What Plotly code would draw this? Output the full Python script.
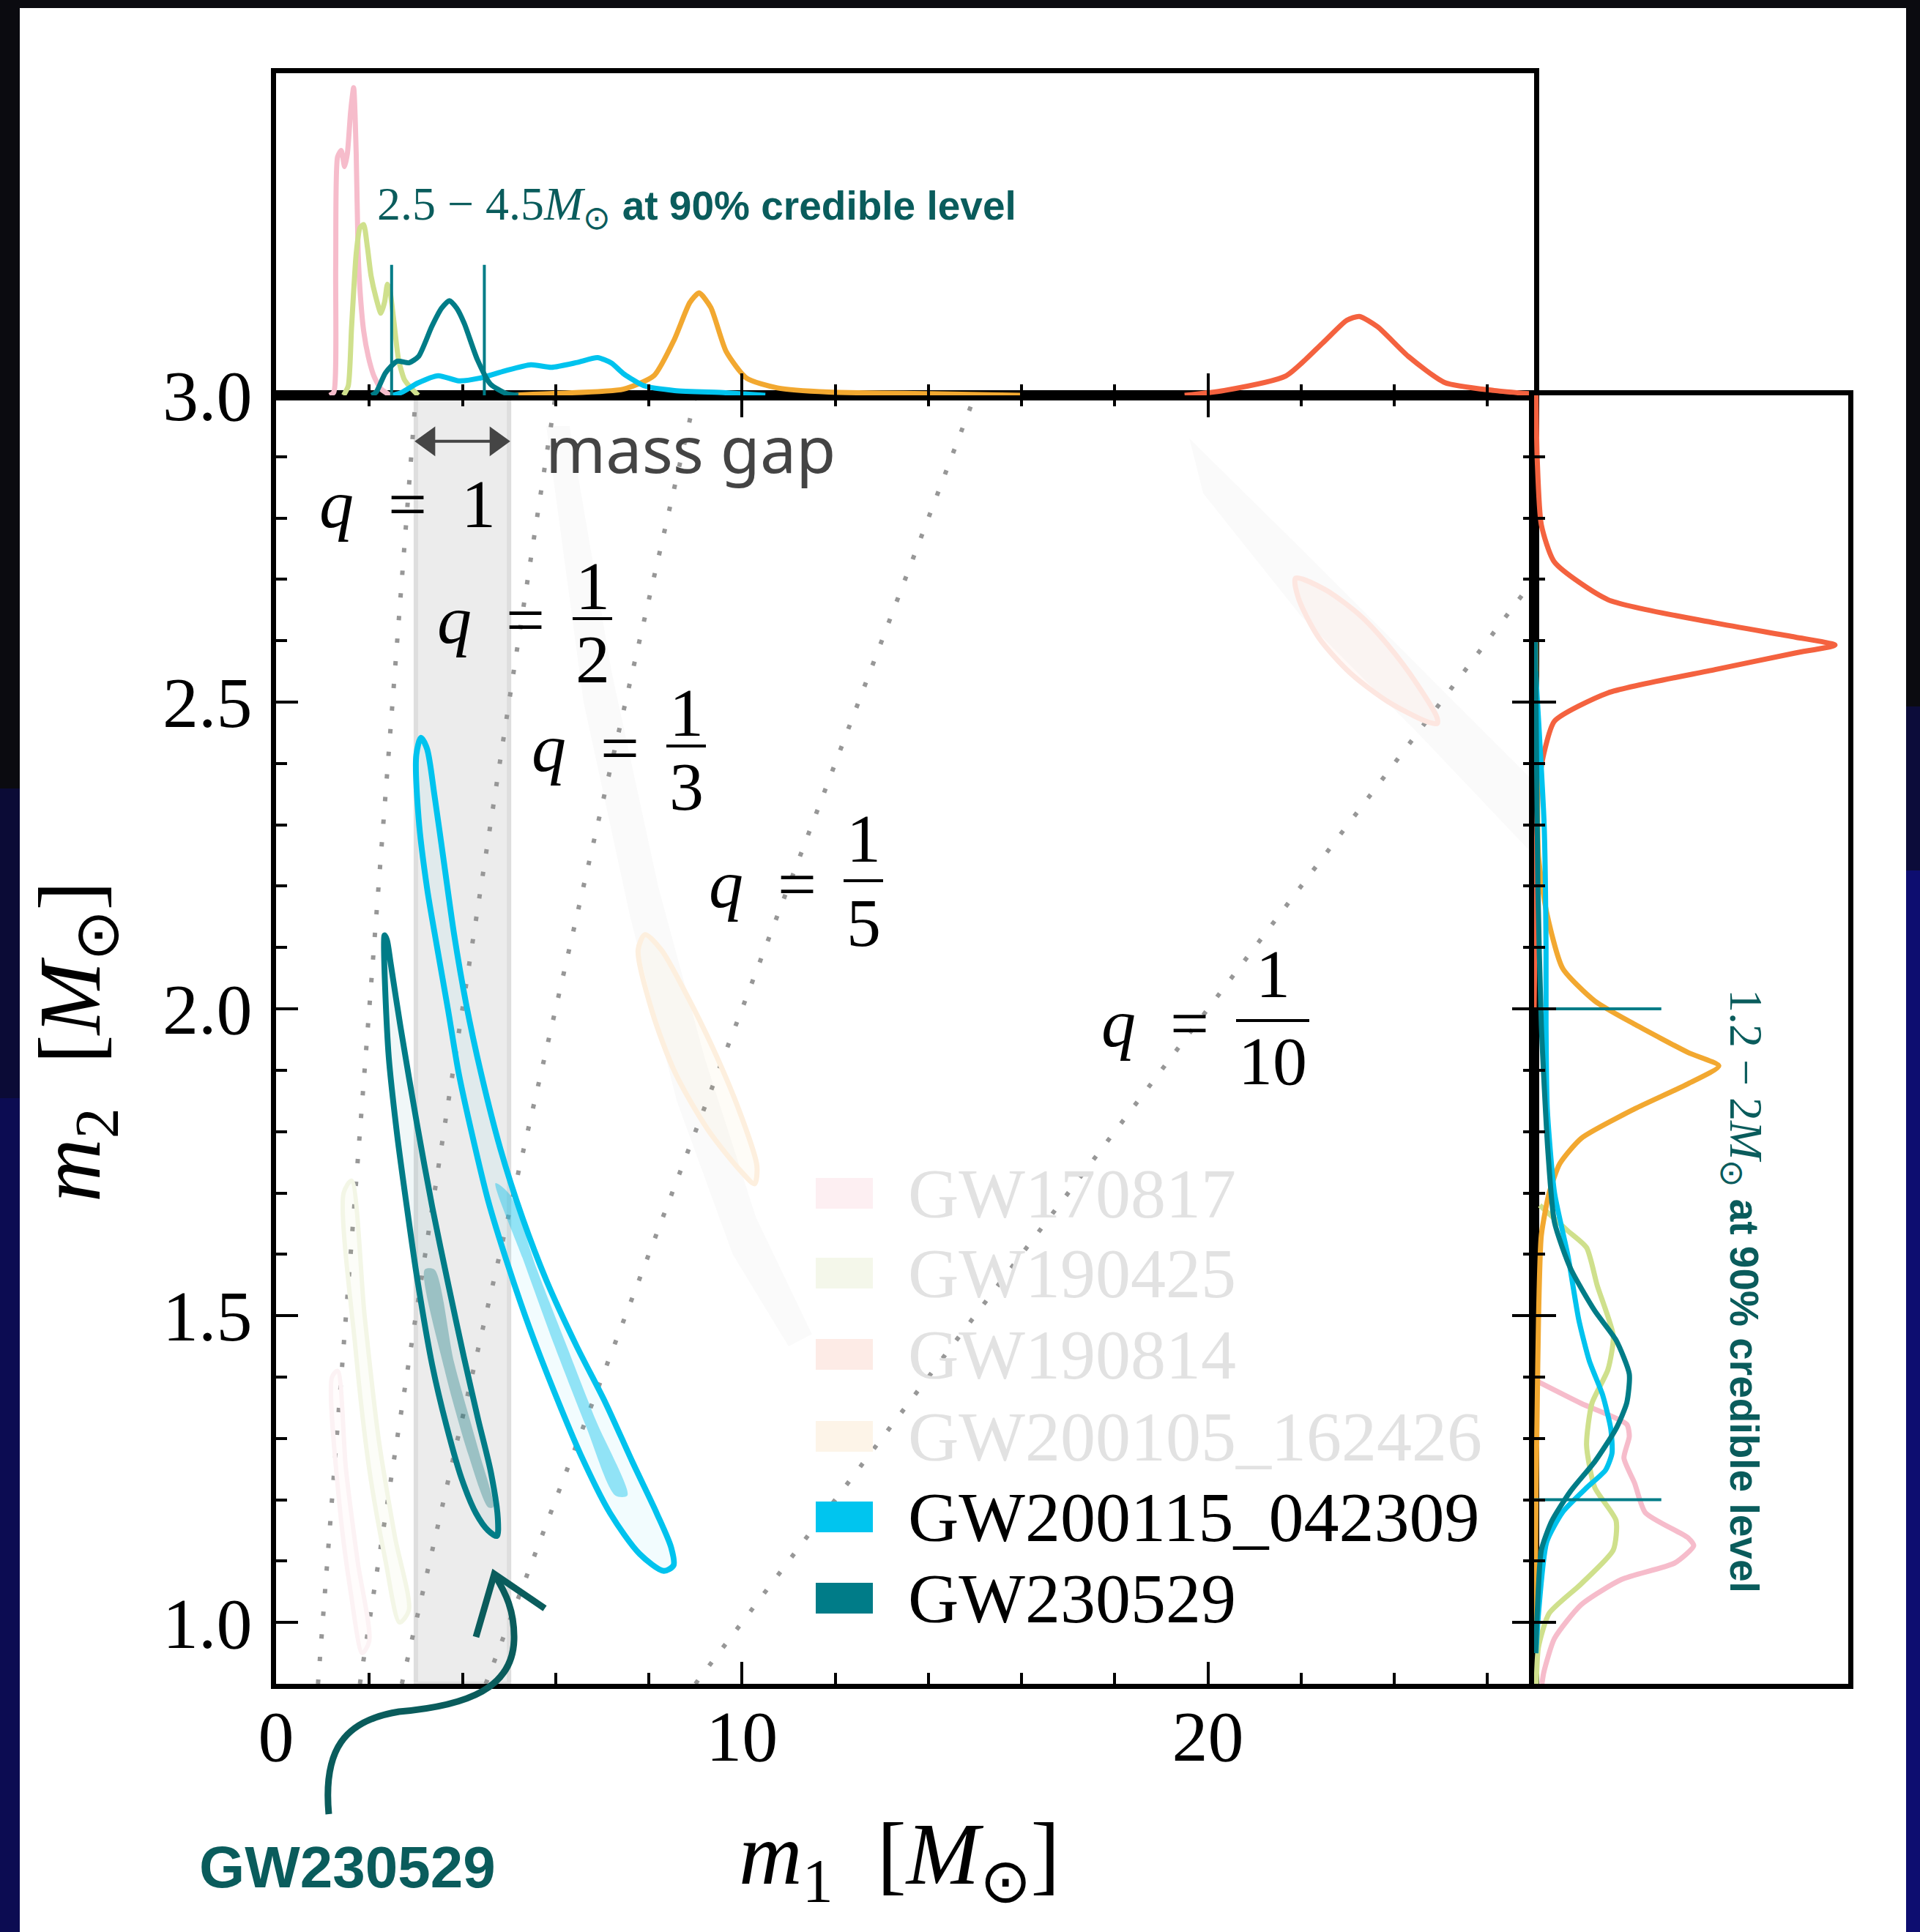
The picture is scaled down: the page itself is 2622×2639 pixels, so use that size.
import plotly.graph_objects as go

W, H = 2622, 2639

# ---------------- data ----------------
m1_range = [0, 27]
m2_range = [0.9, 3.0]
q_values = [1, 1/2, 1/3, 1/5, 1/10]
q_numerators = ["1", "1", "1", "1"]
q_denominators = ["2", "3", "5", "10"]
mass_gap = [3.0, 5.0]
gap_arrow_m2 = 2.925
cred_m1 = [2.48, 4.47]      # GW230529 m1 90% bounds (top marginal)
cred_m2 = [1.2, 2.0]        # GW230529 m2 90% bounds (right marginal)
cred_len = 0.405

events = ["GW170817", "GW190425", "GW190814", "GW200105_162426",
          "GW200115_042309", "GW230529"]
line_colors = ["#f6bccb", "#cfe08c", "#f4623f", "#f2a830", "#00c3ee", "#007c87"]
faint_patch = ["#fdeff2", "#f4f7ea", "#fdebe6", "#fdf4e8", "#00c5ef", "#007c88"]
faint_event = [True, True, True, True, False, False]

# 90% contours (m1, m2)
gw230529_m1 = [2.33, 2.41, 2.59, 2.82, 3.03, 3.35, 3.66, 3.98, 4.29, 4.55, 4.74,
               4.76, 4.61, 4.34, 4.03, 3.71, 3.35, 3.03, 2.67, 2.46, 2.38, 2.33]
gw230529_m2 = [2.12, 1.93, 1.80, 1.67, 1.56, 1.42, 1.32, 1.235, 1.178, 1.150, 1.141,
               1.169, 1.245, 1.330, 1.433, 1.546, 1.678, 1.810, 1.971, 2.074, 2.112, 2.12]
gw230529_core_m1 = [3.19, 3.61, 4.13, 4.55, 4.66, 4.34, 3.82, 3.40, 3.19]
gw230529_core_m2 = [1.575, 1.414, 1.273, 1.188, 1.188, 1.282, 1.424, 1.575, 1.575]

gw200115_m1 = [3.11, 3.01, 3.06, 3.24, 3.45, 3.69, 3.92, 4.19, 4.55, 4.97, 5.44, 5.97,
               6.54, 7.17, 7.80, 8.32, 8.53, 8.48, 8.17, 7.64, 7.07, 6.44, 5.81, 5.29,
               4.81, 4.40, 4.08, 3.82, 3.61, 3.40, 3.24, 3.11]
gw200115_m2 = [2.442, 2.414, 2.310, 2.197, 2.103, 1.999, 1.895, 1.801, 1.688, 1.584,
               1.480, 1.376, 1.273, 1.178, 1.112, 1.084, 1.093, 1.122, 1.178, 1.263,
               1.358, 1.452, 1.556, 1.659, 1.773, 1.895, 2.008, 2.122, 2.235, 2.348,
               2.424, 2.442]
gw200115_core_m1 = [4.71, 5.29, 5.97, 6.65, 7.28, 7.54, 6.86, 6.23, 5.60, 5.02, 4.71]
gw200115_core_m2 = [1.716, 1.594, 1.452, 1.320, 1.207, 1.207, 1.330, 1.452, 1.575, 1.697, 1.716]

gw200105_m1 = [7.92, 7.77, 8.07, 8.57, 9.27, 9.97, 10.27, 10.32, 9.97, 9.37, 8.77, 8.27, 7.92]
gw200105_m2 = [2.121, 2.096, 1.996, 1.895, 1.803, 1.736, 1.715, 1.744, 1.828, 1.937, 2.029, 2.096, 2.121]
gw200105_tail_m1 = [5.8, 6.6, 7.6, 8.6, 9.8, 11.0, 11.5, 10.3, 9.2, 8.2, 7.2, 6.3, 5.8]
gw200105_tail_m2 = [2.95, 2.5, 2.15, 1.85, 1.6, 1.45, 1.47, 1.66, 1.92, 2.2, 2.55, 2.95, 2.95]

gw190814_m1 = [21.88, 22.50, 23.24, 23.86, 24.49, 24.92, 24.92, 24.67, 23.86, 23.06, 22.37, 21.94, 21.88]
gw190814_m2 = [2.702, 2.684, 2.643, 2.593, 2.529, 2.474, 2.465, 2.469, 2.501, 2.547, 2.606, 2.670, 2.702]
gw190814_tail_m1 = [19.6, 22.0, 24.5, 27.0, 27.0, 24.5, 22.0, 19.9, 19.6]
gw190814_tail_m2 = [2.93, 2.75, 2.56, 2.37, 2.25, 2.45, 2.64, 2.84, 2.93]

gw190425_m1 = [1.45, 1.70, 2.00, 2.35, 2.65, 2.85, 2.55, 2.20, 1.90, 1.62, 1.45]
gw190425_m2 = [1.70, 1.45, 1.25, 1.10, 1.00, 1.02, 1.14, 1.30, 1.50, 1.72, 1.70]
gw170817_m1 = [1.20, 1.35, 1.60, 1.85, 2.00, 1.75, 1.50, 1.32, 1.20]
gw170817_m2 = [1.40, 1.20, 1.05, 0.95, 0.97, 1.10, 1.25, 1.41, 1.40]

# top marginal: m1 densities (normalised panel height)
top_m1 = {
    "GW170817": [1.15, 1.24, 1.28, 1.32, 1.40, 1.47, 1.53, 1.60, 1.665, 1.72, 1.76, 1.80, 1.88, 1.98, 2.10, 2.25, 2.45],
    "GW190425": [1.45, 1.55, 1.62, 1.72, 1.80, 1.88, 1.96, 2.04, 2.15, 2.25, 2.33, 2.39, 2.45, 2.52, 2.63, 2.75, 2.85, 3.05],
    "GW190814": [19.5, 20.35, 21.67, 22.46, 22.98, 23.25, 23.64, 24.30, 25.08, 26.14, 26.9],
    "GW200105_162426": [5.0, 6.0, 7.45, 8.11, 8.55, 8.88, 9.08, 9.33, 9.66, 10.10, 10.76, 11.86, 14.07, 16.0],
    "GW200115_042309": [2.5, 2.71, 3.04, 3.48, 3.92, 4.36, 4.91, 5.47, 5.91, 6.46, 6.90, 7.20, 7.45, 7.89, 8.55, 9.65, 10.5],
    "GW230529": [2.05, 2.15, 2.35, 2.60, 2.85, 3.06, 3.34, 3.55, 3.72, 3.88, 4.04, 4.32, 4.60, 4.95, 5.2],
}
top_h = {
    "GW170817": [0, 0.01, 0.4, 0.74, 0.76, 0.71, 0.75, 0.88, 0.955, 0.75, 0.45, 0.33, 0.2, 0.12, 0.06, 0.02, 0],
    "GW190425": [0, 0.03, 0.21, 0.44, 0.52, 0.53, 0.46, 0.37, 0.30, 0.255, 0.29, 0.345, 0.32, 0.24, 0.11, 0.05, 0.03, 0],
    "GW190814": [0, 0.015, 0.06, 0.162, 0.233, 0.245, 0.213, 0.121, 0.04, 0.015, 0.005],
    "GW200105_162426": [0, 0.006, 0.019, 0.061, 0.174, 0.288, 0.318, 0.273, 0.136, 0.053, 0.023, 0.01, 0.005, 0],
    "GW200115_042309": [0, 0.01, 0.038, 0.061, 0.045, 0.053, 0.076, 0.095, 0.087, 0.102, 0.117, 0.1, 0.068, 0.030, 0.015, 0.008, 0],
    "GW230529": [0, 0.01, 0.07, 0.106, 0.101, 0.121, 0.213, 0.27, 0.294, 0.27, 0.223, 0.111, 0.035, 0.005, 0],
}
# right marginal: m2 densities (normalised panel width)
right_m2 = {
    "GW170817": [1.392, 1.357, 1.323, 1.303, 1.268, 1.227, 1.179, 1.138, 1.125, 1.097, 1.070, 1.029, 0.974, 0.919, 0.9],
    "GW190425": [1.68, 1.638, 1.611, 1.549, 1.467, 1.412, 1.357, 1.289, 1.220, 1.166, 1.118, 1.063, 1.015, 0.960, 0.9],
    "GW190814": [3.0, 2.895, 2.789, 2.728, 2.667, 2.629, 2.606, 2.593, 2.580, 2.553, 2.515, 2.469, 2.416, 2.363, 2.2, 2.0],
    "GW200105_162426": [2.6, 2.401, 2.249, 2.157, 2.066, 2.013, 1.975, 1.929, 1.907, 1.878, 1.837, 1.789, 1.748, 1.700, 1.631, 1.494, 1.357, 1.2, 1.0],
    "GW200115_042309": [2.55, 2.3, 2.1, 1.974, 1.837, 1.700, 1.597, 1.494, 1.426, 1.371, 1.316, 1.276, 1.248, 1.220, 1.180, 1.131, 1.015, 0.95],
    "GW230529": [2.6, 2.2, 1.974, 1.768, 1.652, 1.577, 1.508, 1.460, 1.405, 1.358, 1.316, 1.262, 1.214, 1.166, 1.118, 1.015, 0.95],
}
right_w = {
    "GW170817": [0.014, 0.150, 0.295, 0.303, 0.286, 0.320, 0.354, 0.490, 0.508, 0.448, 0.278, 0.150, 0.065, 0.031, 0.025],
    "GW190425": [0.018, 0.108, 0.167, 0.201, 0.252, 0.235, 0.184, 0.167, 0.193, 0.261, 0.252, 0.150, 0.048, 0.014, 0.007],
    "GW190814": [0.006, 0.010, 0.023, 0.065, 0.235, 0.576, 0.831, 0.958, 0.831, 0.576, 0.235, 0.065, 0.031, 0.014, 0.005, 0],
    "GW200105_162426": [0.005, 0.010, 0.014, 0.040, 0.091, 0.193, 0.320, 0.490, 0.588, 0.490, 0.320, 0.150, 0.082, 0.048, 0.023, 0.014, 0.010, 0.006, 0.003],
    "GW200115_042309": [0.005, 0.032, 0.038, 0.038, 0.042, 0.065, 0.108, 0.142, 0.176, 0.218, 0.244, 0.248, 0.227, 0.168, 0.091, 0.040, 0.014, 0.006],
    "GW230529": [0.004, 0.012, 0.023, 0.044, 0.065, 0.116, 0.193, 0.261, 0.303, 0.295, 0.261, 0.193, 0.116, 0.057, 0.023, 0.010, 0.005],
}

# ---------------- helpers ----------------
def px(x):
    return x / W

def py(y):
    return 1 - y / H

TEAL_TXT = "#0a5c5c"
SERIF = "Liberation Serif"
SANS = "Liberation Sans"
ESP = "\u2002"

fig = go.Figure()

def poly(xs, ys, fill, line_color=None, width=0, spline=True):
    fig.add_trace(go.Scatter(
        x=xs, y=ys, mode="lines", fill="toself", fillcolor=fill,
        line=dict(color=line_color or "rgba(0,0,0,0)", width=width,
                  shape="spline" if spline else "linear", smoothing=0.8),
        hoverinfo="skip", showlegend=False, xaxis="x", yaxis="y"))

# faint density tails
poly(gw190814_tail_m1, gw190814_tail_m2, "#fafafa", spline=False)
poly(gw200105_tail_m1, gw200105_tail_m2, "#fafafa", spline=False)

# q = m2/m1 lines
for q in q_values:
    fig.add_trace(go.Scatter(
        x=[m2_range[0] / q, m2_range[1] / q], y=m2_range, mode="lines",
        line=dict(color="#979797", width=6, dash="6px,25px"),
        hoverinfo="skip", showlegend=False, xaxis="x", yaxis="y"))

# faint events
poly(gw170817_m1, gw170817_m2, "rgba(246,188,203,0.05)", "#fcf2f4", 6)
poly(gw190425_m1, gw190425_m2, "rgba(207,224,140,0.06)", "#f3f6e6", 6)
poly(gw200105_m1, gw200105_m2, "rgba(242,168,48,0.04)", "#fdefde", 7)
poly(gw190814_m1, gw190814_m2, "rgba(244,98,63,0.04)", "#fde6e0", 7)

# highlighted events
poly(gw200115_m1, gw200115_m2, "rgba(0,195,238,0.05)", None, 0)
poly(gw200115_core_m1, gw200115_core_m2, "rgba(0,190,235,0.40)", None, 0)
poly(gw200115_m1, gw200115_m2, "rgba(0,0,0,0)", "#00c3ee", 8)
poly(gw230529_m1, gw230529_m2, "rgba(0,124,135,0.06)", None, 0)
poly(gw230529_core_m1, gw230529_core_m2, "rgba(0,110,120,0.30)", None, 0)
poly(gw230529_m1, gw230529_m2, "rgba(0,0,0,0)", "#007c87", 8)

# marginals
for name, col in zip(events, line_colors):
    fig.add_trace(go.Scatter(
        x=top_m1[name], y=top_h[name], mode="lines",
        line=dict(color=col, width=7, shape="spline", smoothing=0.6),
        hoverinfo="skip", showlegend=False, xaxis="x2", yaxis="y2"))
    fig.add_trace(go.Scatter(
        x=right_w[name], y=right_m2[name], mode="lines",
        line=dict(color=col, width=7, shape="spline", smoothing=0.6),
        hoverinfo="skip", showlegend=False, xaxis="x3", yaxis="y3"))

for v in cred_m1:
    fig.add_trace(go.Scatter(x=[v, v], y=[0, cred_len], mode="lines",
                             line=dict(color="#007c87", width=4),
                             hoverinfo="skip", showlegend=False, xaxis="x2", yaxis="y2"))
for v in cred_m2:
    fig.add_trace(go.Scatter(x=[0, cred_len], y=[v, v], mode="lines",
                             line=dict(color="#007c87", width=4),
                             hoverinfo="skip", showlegend=False, xaxis="x3", yaxis="y3"))

# ---------------- shapes ----------------
shapes = []
# page background: dark frame with blue sides, white sheet
shapes += [
    dict(type="rect", xref="paper", yref="paper", x0=0, x1=px(27), y0=py(1077), y1=py(1500),
         fillcolor="#0b0b36", line_width=0, layer="below"),
    dict(type="rect", xref="paper", yref="paper", x0=0, x1=px(27), y0=py(1500), y1=0,
         fillcolor="#0c0c52", line_width=0, layer="below"),
    dict(type="rect", xref="paper", yref="paper", x0=px(2603), x1=1, y0=py(965), y1=py(1189),
         fillcolor="#0c0c3a", line_width=0, layer="below"),
    dict(type="rect", xref="paper", yref="paper", x0=px(2603), x1=1, y0=py(1189), y1=0,
         fillcolor="#0d0d70", line_width=0, layer="below"),
    dict(type="rect", xref="paper", yref="paper", x0=px(27), x1=px(2603), y0=0, y1=py(11),
         fillcolor="white", line_width=0, layer="below"),
]
# mass gap band
shapes.append(dict(type="rect", xref="x", yref="y", x0=mass_gap[0], x1=mass_gap[1],
                   y0=m2_range[0], y1=m2_range[1], fillcolor="#ececec",
                   line=dict(color="#dedede", width=6), layer="below"))
# double arrow across the mass gap (data coordinates)
shapes.append(dict(type="line", xref="x", yref="y", x0=mass_gap[0] + 0.25, x1=mass_gap[1] - 0.25,
                   y0=gap_arrow_m2, y1=gap_arrow_m2, line=dict(color="#454545", width=4)))
ah_dx, ah_dy = 0.4, 0.022
for tip, sgn in ((mass_gap[0], 1), (mass_gap[1], -1)):
    shapes.append(dict(type="path", xref="x", yref="y",
                       path=(f"M{tip},{gap_arrow_m2} L{tip + sgn * ah_dx},{gap_arrow_m2 + ah_dy} "
                             f"L{tip + sgn * ah_dx},{gap_arrow_m2 - ah_dy} Z"),
                       fillcolor="#454545", line=dict(color="#454545", width=2)))

# fraction bars for q labels
frac_bars = [(782, 836, 845), (910, 964, 1019), (1152, 1206, 1203), (1688, 1788, 1394)]
for x0, x1, y in frac_bars:
    shapes.append(dict(type="line", xref="paper", yref="paper", x0=px(x0), x1=px(x1),
                       y0=py(y), y1=py(y), line=dict(color="black", width=4)))

# legend patches
rows = [1630, 1739, 1850, 1962, 2072, 2183]
for r, c in zip(rows, faint_patch):
    shapes.append(dict(type="rect", xref="paper", yref="paper", x0=px(1114), x1=px(1192),
                       y0=py(r + 21), y1=py(r - 21), fillcolor=c, line_width=0))

# hand-drawn arrow pointing to GW230529
def P(x, y):
    return f"{px(x):.5f},{py(y):.5f}"
arrow_path = (f"M{P(449,2478)} C{P(441,2390)} {P(470,2350)} {P(545,2338)} "
              f"C{P(640,2330)} {P(700,2305)} {P(702,2240)} "
              f"C{P(703,2200)} {P(690,2175)} {P(676,2152)}")
head_path = f"M{P(650,2236)} L{P(675,2150)} L{P(744,2197)}"
shapes.append(dict(type="path", xref="paper", yref="paper", path=arrow_path,
                   line=dict(color=TEAL_TXT, width=9)))
shapes.append(dict(type="path", xref="paper", yref="paper", path=head_path,
                   line=dict(color=TEAL_TXT, width=9)))

# ---------------- annotations ----------------
ann = []
def text(x, y, s, size, family=SERIF, color="black", xanchor="center", yanchor="middle", angle=0):
    ann.append(dict(x=px(x), y=py(y), xref="paper", yref="paper", text=s, showarrow=False,
                    xanchor=xanchor, yanchor=yanchor, textangle=angle,
                    font=dict(family=family, size=size, color=color)))

# axis titles
text(1228, 2541, "<i>m</i><sub>1</sub>  [<i>M</i><sub>⊙</sub>]", 120)
text(104, 1422, "<i>m</i><sub>2</sub>  [<i>M</i><sub>⊙</sub>]", 120, angle=-90)

# q labels
QS = 94
text(556, 688, f"<i>q</i>{ESP}={ESP}1", QS)
q_eq_pos = [(670, 846), (799, 1021), (1041, 1207), (1577, 1397)]
num_pos = [(809, 800), (937, 973), (1179, 1145), (1738, 1330)]
den_pos = [(809, 900), (937, 1074), (1179, 1260), (1738, 1449)]
for (qx, qy), (nx, ny), (dx, dy), n, d in zip(q_eq_pos, num_pos, den_pos, q_numerators, q_denominators):
    text(qx, qy, f"<i>q</i>{ESP}=", QS)
    text(nx, ny, n, QS)
    text(dx, dy, d, QS)

# mass gap label
text(743, 612, "mass gap", 88, family="Noto Sans", color="#444444", xanchor="left")

# credible-level notes
note_top = ('<span style="font-family:Liberation Serif;font-size:64px">2.5 − 4.5<i>M</i>'
            '<sub>⊙</sub></span> <b>at 90% credible level</b>')
text(513, 283, note_top, 55, family=SANS, color=TEAL_TXT, xanchor="left")
note_right = ('<span style="font-family:Liberation Serif;font-size:64px">1.2 − 2<i>M</i>'
              '<sub>⊙</sub></span> <b>at 90% credible level</b>')
text(2380, 1763, note_right, 55, family=SANS, color=TEAL_TXT, angle=90)

# legend texts
for r, name, faint in zip(rows, events, faint_event):
    text(1238, r, name, 96, color="#e2e2e2" if faint else "black", xanchor="left")

# GW230529 call-out
text(474, 2550, "<b>GW230529</b>", 80, family=SANS, color=TEAL_TXT)

# ---------------- axes ----------------
common = dict(showline=True, linecolor="black", linewidth=7, showgrid=False, zeroline=False)
tickstyle = dict(ticks="inside", ticklen=30, tickwidth=4, tickcolor="black")
main_x_dom = [px(377), px(2095)]
right_x_dom = [px(2095), px(2524)]
main_y_dom = [py(2300), py(540)]
top_y_dom = [py(540), py(100)]

fig.update_layout(
    width=W, height=H, margin=dict(l=0, r=0, t=0, b=0, autoexpand=False),
    paper_bgcolor="#0b0b10", plot_bgcolor="white", showlegend=False,
    shapes=shapes, annotations=ann,
    xaxis=dict(domain=main_x_dom, range=m1_range, anchor="y", mirror="ticks",
               tickmode="linear", tick0=0, dtick=10,
               minor=dict(ticks="inside", ticklen=15, tickwidth=4, tickcolor="black", tick0=0, dtick=2),
               tickfont=dict(family=SERIF, size=98, color="black"), ticklabelstandoff=-20,
               **tickstyle, **common),
    yaxis=dict(domain=main_y_dom, range=m2_range, anchor="x", mirror="ticks",
               tickmode="linear", tick0=1.0, dtick=0.5, tickformat=".1f",
               minor=dict(ticks="inside", ticklen=15, tickwidth=4, tickcolor="black", tick0=1.0, dtick=0.1),
               tickfont=dict(family=SERIF, size=98, color="black"), ticklabelstandoff=6,
               **tickstyle, **common),
    xaxis2=dict(domain=main_x_dom, range=m1_range, anchor="y2", matches="x", mirror=True,
                tickmode="linear", tick0=0, dtick=10, showticklabels=False,
                minor=dict(ticks="inside", ticklen=15, tickwidth=4, tickcolor="black", tick0=0, dtick=2),
                **tickstyle, **common),
    yaxis2=dict(domain=top_y_dom, range=[0, 1], anchor="x2", mirror=True, ticks="",
                showticklabels=False, **common),
    xaxis3=dict(domain=right_x_dom, range=[0, 1], anchor="y3", mirror=True, ticks="",
                showticklabels=False, **common),
    yaxis3=dict(domain=main_y_dom, range=m2_range, anchor="x3", matches="y", mirror=True,
                tickmode="linear", tick0=1.0, dtick=0.5, showticklabels=False,
                minor=dict(ticks="inside", ticklen=15, tickwidth=4, tickcolor="black", tick0=1.0, dtick=0.1),
                **tickstyle, **common),
)

fig.write_html("out.html")
